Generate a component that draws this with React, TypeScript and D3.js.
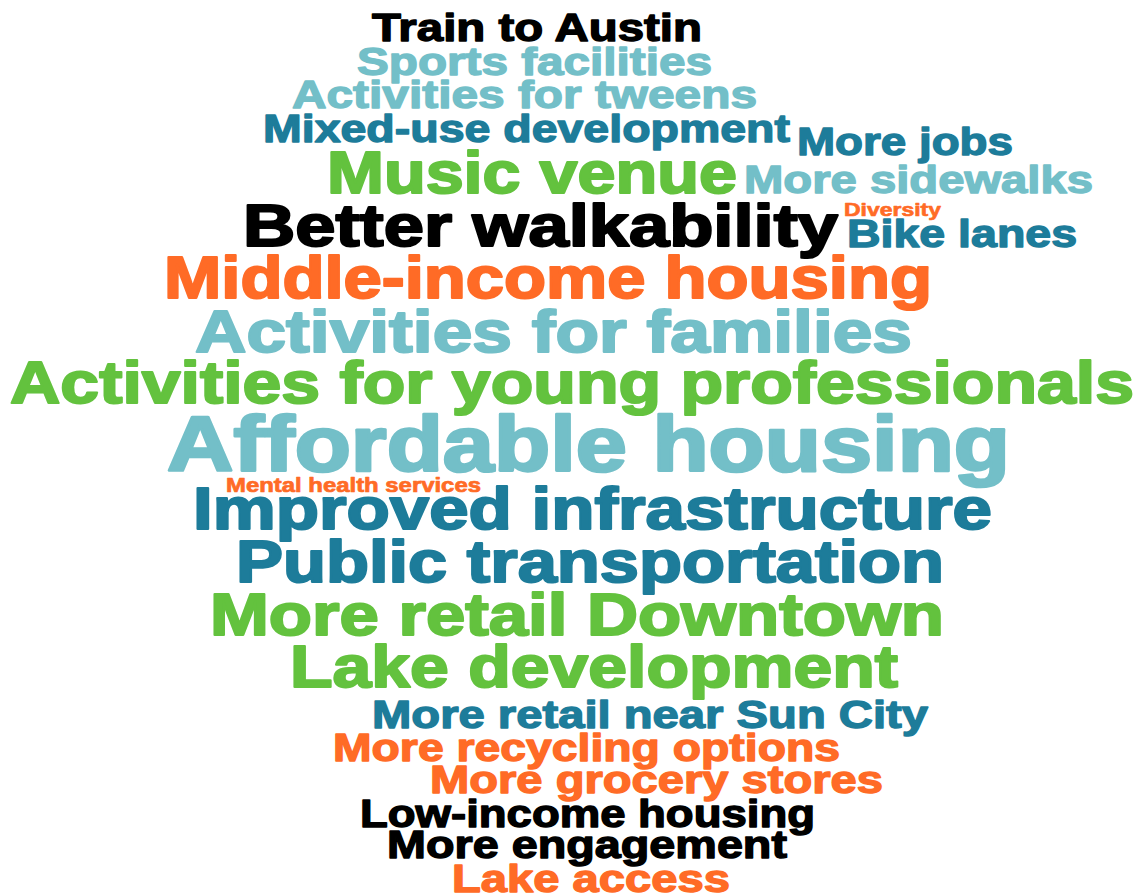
import * as d3 from "d3";
import { useEffect, useRef } from "react";

// words of the cloud, top to bottom
const words = [
  "Train to Austin",
  "Sports facilities",
  "Activities for tweens",
  "Mixed-use development",
  "More jobs",
  "Music venue",
  "More sidewalks",
  "Diversity",
  "Better walkability",
  "Bike lanes",
  "Middle-income housing",
  "Activities for families",
  "Activities for young professionals",
  "Affordable housing",
  "Mental health services",
  "Improved infrastructure",
  "Public transportation",
  "More retail Downtown",
  "Lake development",
  "More retail near Sun City",
  "More recycling options",
  "More grocery stores",
  "Low-income housing",
  "More engagement",
  "Lake access",
];

// how often each word was mentioned
const mentions = [4, 4, 4, 4, 4, 8, 4, 1, 8, 4, 8, 8, 8, 12, 2, 8, 8, 8, 8, 4, 4, 4, 4, 4, 4];

// colour group of each word
const groups = [
  "black", "light", "light", "dark", "dark", "green", "light", "orange", "black", "dark",
  "orange", "light", "green", "light", "orange", "dark", "dark", "green", "green", "dark",
  "orange", "orange", "black", "black", "orange",
];

// solved cloud layout (left edge, right edge, baseline) in cloud units
const spanLeft = [372, 357, 292, 263, 797, 327, 744, 844, 243, 847, 164, 195, 10, 167, 226, 193, 236, 210, 290, 372, 333, 430, 360, 387, 452];
const spanRight = [702, 712, 757, 790, 1013, 737, 1093, 941, 838, 1077, 932, 912, 1134, 1010, 481, 992, 944, 944, 898, 928, 840, 883, 815, 787, 730];
const baseline = [41, 75, 108, 142, 155, 193, 193, 216, 246, 247, 298, 352, 403, 471, 492, 529, 582, 635, 687, 728, 761, 793, 827, 858, 892];

const WordCloud = () => {
  const ref = useRef<SVGSVGElement | null>(null);

  useEffect(() => {
    if (!ref.current) return;
    const width = 1144;
    const height = 895;
    const svg = d3.select(ref.current);
    svg.selectAll("*").remove();
    svg.attr("width", width).attr("height", height);

    const x = d3.scaleLinear().domain([0, 1144]).range([0, width]);
    const y = d3.scaleLinear().domain([0, 895]).range([0, height]);
    const size = d3.scaleLinear().domain([1, 2, 4, 8, 12]).range([17.7, 21, 39, 60, 78]);
    const color = d3
      .scaleOrdinal<string>()
      .domain(["black", "light", "dark", "green", "orange"])
      .range(["#000000", "#73bfc8", "#1d7c9a", "#63c23e", "#ff6b26"]);

    const data = words.map((w, i) => ({
      text: w,
      value: mentions[i],
      group: groups[i],
      x0: spanLeft[i],
      x1: spanRight[i],
      y: baseline[i],
    }));

    svg
      .append("g")
      .attr("font-family", "'Liberation Sans', Arial, sans-serif")
      .attr("font-weight", "bold")
      .selectAll("text")
      .data(data)
      .join("text")
      .attr("x", (d) => x(d.x0))
      .attr("y", (d) => y(d.y))
      .attr("textLength", (d) => x(d.x1) - x(d.x0))
      .attr("lengthAdjust", "spacingAndGlyphs")
      .attr("font-size", (d) => size(d.value))
      .attr("fill", (d) => color(d.group))
      .attr("stroke", (d) => color(d.group))
      .attr("stroke-width", (d) => size(d.value) * 0.035)
      .attr("stroke-linejoin", "round")
      .text((d) => d.text);
  }, []);

  return <svg ref={ref} style={{ position: "absolute", left: 0, top: 0 }}></svg>;
};

export default function App() {
  return <WordCloud />;
}
